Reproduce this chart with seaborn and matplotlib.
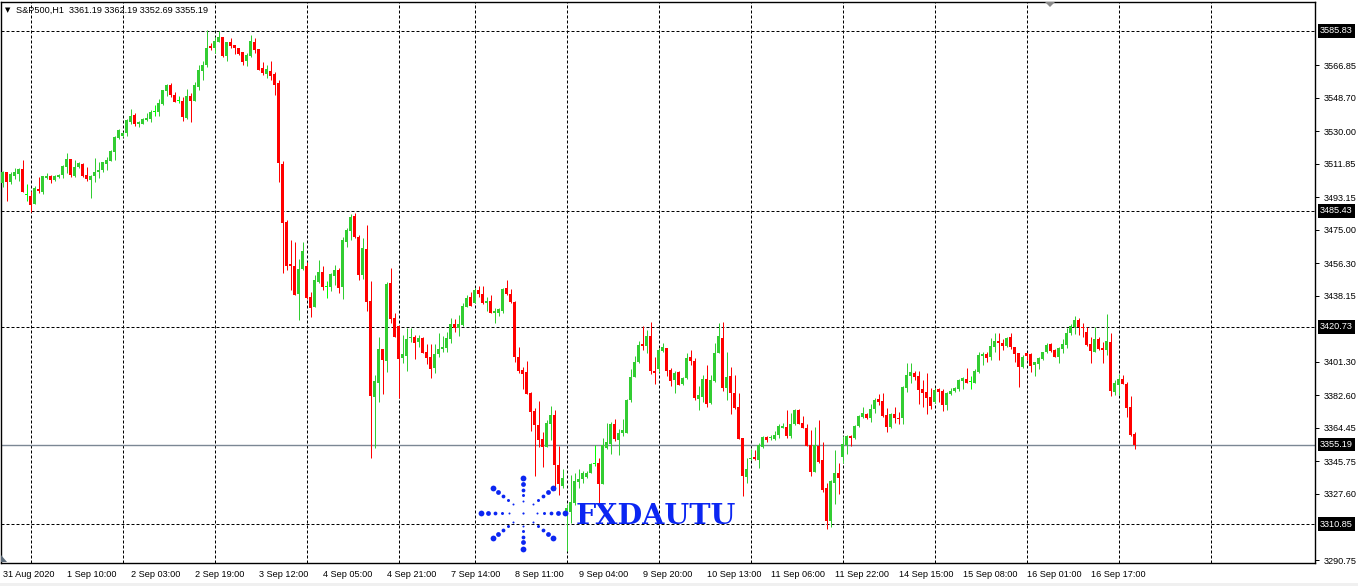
import numpy as np
import seaborn as sns
import matplotlib.pyplot as plt
from matplotlib.patches import Rectangle, Polygon

sns.set_theme(style="white")
plt.rcParams["font.family"] = ["Liberation Sans", "DejaVu Sans"]

# S&P500 hourly candles, 31 Aug 2020 -> 17 Sep 2020
opens = [
    3500.9, 3507.4, 3501.8, 3505.2, 3506.3, 3508.9, 3494.4, 3493.8, 3489.4, 3497.7,
    3496.2, 3504.1, 3505.2, 3502.8, 3504.6, 3505.5, 3510.2, 3514.5, 3505.2, 3510.2,
    3511.7, 3505.5, 3502.8, 3505.0, 3507.4, 3508.3, 3511.9, 3513.4, 3518.6, 3526.4,
    3527.3, 3529.2, 3535.3, 3539.0, 3533.8, 3534.2, 3536.2, 3536.8, 3540.8, 3540.5,
    3545.1, 3552.6, 3555.7, 3550.2, 3546.8, 3547.0, 3537.1, 3549.8, 3546.8, 3554.8,
    3563.5, 3566.9, 3577.7, 3576.2, 3579.9, 3582.3, 3572.1, 3579.5, 3578.0, 3576.2,
    3574.3, 3569.1, 3572.1, 3579.9, 3575.8, 3565.0, 3561.9, 3563.7, 3561.7, 3556.7,
    3511.5, 3479.5, 3455.3, 3454.8, 3439.2, 3452.9, 3455.0, 3437.3, 3432.1, 3446.1,
    3451.6, 3443.0, 3443.3, 3449.2, 3452.6, 3443.3, 3468.4, 3474.5, 3482.7, 3471.2,
    3449.8, 3464.3, 3435.3, 3381.9, 3389.7, 3408.5, 3402.0, 3445.1, 3426.0, 3421.3,
    3403.7, 3404.6, 3414.5, 3415.4, 3412.6, 3414.8, 3407.0, 3404.2, 3398.1, 3405.5,
    3408.5, 3409.2, 3414.1, 3422.4, 3420.0, 3421.9, 3432.1, 3437.3, 3434.3, 3441.4,
    3439.2, 3434.3, 3435.3, 3428.8, 3428.8, 3429.7, 3442.3, 3439.2, 3434.5, 3404.2,
    3396.8, 3395.5, 3383.8, 3373.9, 3366.1, 3358.1, 3353.7, 3366.7, 3371.7, 3343.8,
    3332.0, 3316.0, 3317.7, 3322.4, 3334.5, 3335.8, 3337.2, 3339.5, 3344.2, 3344.7,
    3333.2, 3353.4, 3355.5, 3366.6, 3357.7, 3361.4, 3361.8, 3380.0, 3393.0, 3401.0,
    3411.1, 3410.3, 3415.7, 3396.2, 3397.1, 3407.5, 3409.2, 3396.8, 3391.2, 3395.8,
    3388.9, 3392.1, 3404.2, 3401.9, 3380.6, 3381.9, 3391.7, 3378.1, 3390.6, 3406.0,
    3414.4, 3386.5, 3393.4, 3384.1, 3376.3, 3359.0, 3337.2, 3346.9, 3348.4, 3346.5,
    3353.6, 3359.6, 3358.6, 3358.3, 3360.5, 3364.2, 3365.1, 3360.1, 3366.6, 3374.4,
    3367.0, 3364.6, 3354.9, 3340.0, 3354.3, 3346.5, 3330.7, 3312.7, 3333.9, 3339.5,
    3348.0, 3354.9, 3360.0, 3358.6, 3365.7, 3370.7, 3372.2, 3370.2, 3374.8, 3380.6,
    3379.5, 3371.7, 3364.8, 3372.2, 3370.2, 3369.8, 3386.9, 3393.4, 3395.3, 3393.4,
    3386.2, 3384.7, 3381.9, 3379.1, 3386.0, 3385.0, 3377.2, 3383.4, 3385.2, 3386.4,
    3390.8, 3391.7, 3389.9, 3389.7, 3395.8, 3404.8, 3405.7, 3403.8, 3409.8, 3413.1,
    3412.0, 3410.3, 3415.0, 3409.6, 3406.0, 3398.6, 3406.0, 3405.7, 3399.5, 3400.1,
    3402.9, 3407.0, 3411.3, 3407.9, 3404.2, 3408.3, 3410.7, 3417.2, 3420.9, 3424.6,
    3420.9, 3418.1, 3411.3, 3407.0, 3413.9, 3408.8, 3407.9, 3412.6, 3384.7, 3388.4,
    3391.7, 3389.0, 3375.9, 3361.19,
]
highs = [
    3507.8, 3507.4, 3507.4, 3509.3, 3509.6, 3513.9, 3500.5, 3496.8, 3499.4, 3504.4,
    3505.2, 3506.5, 3505.5, 3505.5, 3506.1, 3511.1, 3518.0, 3514.5, 3513.9, 3513.0,
    3512.4, 3509.8, 3505.5, 3515.2, 3513.0, 3513.0, 3515.8, 3519.7, 3527.3, 3531.2,
    3529.7, 3536.6, 3542.4, 3540.1, 3535.7, 3537.1, 3539.9, 3541.8, 3544.6, 3547.9,
    3552.9, 3556.1, 3556.9, 3551.6, 3549.6, 3549.2, 3553.5, 3551.1, 3557.6, 3566.9,
    3569.1, 3586.4, 3579.0, 3582.7, 3585.9, 3582.3, 3579.9, 3581.8, 3578.0, 3576.6,
    3574.3, 3573.8, 3583.6, 3582.1, 3575.8, 3568.4, 3566.9, 3569.1, 3563.2, 3558.5,
    3513.4, 3480.4, 3469.3, 3468.4, 3458.7, 3468.4, 3457.2, 3440.5, 3449.8, 3458.1,
    3454.8, 3446.4, 3451.1, 3455.3, 3453.9, 3471.2, 3475.8, 3483.6, 3484.2, 3472.1,
    3470.2, 3477.7, 3446.4, 3394.0, 3415.4, 3408.5, 3446.1, 3453.5, 3428.4, 3421.3,
    3416.3, 3420.0, 3420.0, 3416.3, 3416.3, 3415.4, 3411.1, 3411.1, 3411.3, 3417.6,
    3415.8, 3418.2, 3426.0, 3425.0, 3427.5, 3434.0, 3438.6, 3440.5, 3442.3, 3443.6,
    3443.6, 3437.7, 3438.6, 3431.2, 3431.6, 3442.3, 3447.0, 3441.8, 3435.5, 3409.8,
    3398.6, 3401.8, 3384.3, 3375.4, 3379.5, 3362.4, 3368.9, 3376.7, 3374.5, 3354.4,
    3341.3, 3322.0, 3338.2, 3339.1, 3341.3, 3340.6, 3340.4, 3345.1, 3354.9, 3347.5,
    3359.0, 3367.4, 3367.9, 3369.4, 3363.6, 3369.4, 3380.4, 3397.1, 3404.7, 3412.9,
    3421.5, 3419.0, 3423.3, 3404.2, 3408.8, 3411.6, 3409.2, 3398.0, 3396.2, 3396.2,
    3393.0, 3406.0, 3407.9, 3403.2, 3387.8, 3393.9, 3399.5, 3393.9, 3411.6, 3422.8,
    3423.7, 3407.0, 3398.2, 3394.0, 3383.7, 3359.0, 3347.8, 3352.5, 3352.1, 3356.2,
    3359.9, 3359.9, 3360.5, 3362.9, 3366.4, 3367.0, 3374.4, 3372.6, 3374.8, 3374.8,
    3371.1, 3366.6, 3363.3, 3365.1, 3368.9, 3356.8, 3333.5, 3335.4, 3352.1, 3344.7,
    3359.9, 3360.5, 3360.5, 3366.1, 3371.7, 3376.3, 3372.6, 3377.8, 3381.0, 3383.4,
    3383.7, 3375.7, 3373.0, 3376.3, 3373.5, 3388.0, 3400.8, 3400.5, 3396.2, 3396.2,
    3391.2, 3395.3, 3386.9, 3386.5, 3386.5, 3386.0, 3384.7, 3386.5, 3387.5, 3391.6,
    3392.7, 3398.1, 3393.6, 3397.3, 3406.6, 3407.0, 3407.0, 3414.4, 3417.2, 3417.2,
    3413.9, 3415.4, 3417.6, 3409.8, 3406.4, 3405.1, 3406.0, 3406.0, 3401.4, 3403.8,
    3407.0, 3412.0, 3411.6, 3408.3, 3409.8, 3413.9, 3420.0, 3422.4, 3426.9, 3425.6,
    3422.8, 3420.6, 3415.4, 3420.6, 3415.4, 3412.6, 3428.0, 3417.2, 3391.2, 3394.5,
    3394.0, 3390.3, 3382.3, 3362.19,
]
lows = [
    3499.0, 3491.2, 3500.3, 3503.3, 3502.4, 3496.2, 3491.2, 3485.1, 3489.4, 3495.7,
    3494.9, 3503.1, 3501.3, 3502.4, 3503.7, 3503.7, 3506.5, 3504.6, 3504.6, 3509.3,
    3504.2, 3502.4, 3492.9, 3501.8, 3504.1, 3507.4, 3508.3, 3513.4, 3513.9, 3525.4,
    3526.9, 3527.3, 3534.0, 3533.1, 3532.5, 3533.8, 3535.7, 3535.3, 3538.6, 3538.6,
    3544.6, 3549.8, 3549.2, 3546.4, 3545.7, 3535.7, 3536.8, 3535.3, 3546.8, 3552.9,
    3558.5, 3566.0, 3575.3, 3573.4, 3579.5, 3571.2, 3569.3, 3576.6, 3572.8, 3572.5,
    3566.9, 3566.5, 3571.5, 3573.8, 3564.1, 3561.3, 3559.5, 3558.5, 3550.2, 3501.8,
    3450.7, 3452.6, 3441.4, 3438.6, 3424.7, 3452.6, 3436.4, 3426.5, 3432.1, 3445.5,
    3441.4, 3437.1, 3440.8, 3444.2, 3439.9, 3436.2, 3465.6, 3469.3, 3470.2, 3447.0,
    3447.5, 3429.7, 3347.5, 3353.1, 3379.1, 3383.4, 3395.9, 3423.2, 3415.0, 3381.0,
    3400.5, 3396.4, 3412.6, 3402.7, 3409.8, 3406.1, 3400.0, 3392.1, 3394.9, 3403.9,
    3406.6, 3406.8, 3411.7, 3418.2, 3415.9, 3421.3, 3432.1, 3432.5, 3434.3, 3437.3,
    3433.6, 3429.7, 3428.4, 3423.2, 3427.1, 3428.4, 3438.6, 3433.9, 3401.4, 3394.9,
    3386.0, 3383.4, 3362.8, 3337.7, 3354.0, 3342.9, 3353.7, 3357.8, 3329.9, 3327.1,
    3331.1, 3296.0, 3311.2, 3321.4, 3331.1, 3333.5, 3336.7, 3339.1, 3343.2, 3320.5,
    3333.2, 3352.5, 3349.7, 3357.3, 3349.3, 3359.9, 3361.4, 3379.1, 3393.0, 3400.5,
    3407.9, 3406.0, 3394.5, 3388.7, 3395.8, 3407.0, 3393.4, 3387.8, 3383.7, 3388.4,
    3388.4, 3391.7, 3399.5, 3380.0, 3374.4, 3378.7, 3376.3, 3377.8, 3390.2, 3406.0,
    3385.2, 3380.0, 3372.0, 3374.8, 3358.3, 3326.7, 3333.9, 3346.5, 3346.5, 3342.3,
    3353.4, 3356.4, 3357.7, 3357.7, 3358.6, 3364.2, 3358.6, 3358.6, 3366.1, 3366.4,
    3364.2, 3354.3, 3337.8, 3340.0, 3345.1, 3328.9, 3308.1, 3309.4, 3321.8, 3327.6,
    3345.1, 3349.9, 3354.6, 3358.1, 3364.8, 3369.8, 3369.4, 3368.0, 3373.0, 3377.2,
    3370.7, 3362.4, 3364.2, 3367.0, 3366.6, 3366.6, 3384.7, 3389.3, 3391.2, 3377.8,
    3376.3, 3372.2, 3375.0, 3378.5, 3379.1, 3374.1, 3374.4, 3382.8, 3384.7, 3385.2,
    3386.2, 3389.3, 3386.2, 3389.3, 3395.3, 3399.5, 3401.4, 3402.3, 3406.6, 3402.3,
    3407.9, 3409.8, 3408.3, 3401.0, 3387.5, 3397.7, 3402.3, 3395.8, 3393.4, 3397.3,
    3402.3, 3406.0, 3407.0, 3403.8, 3400.8, 3406.1, 3409.2, 3416.3, 3416.7, 3416.3,
    3415.4, 3410.3, 3400.5, 3406.6, 3407.9, 3400.5, 3405.1, 3382.3, 3382.8, 3382.8,
    3388.9, 3370.4, 3359.9, 3352.69,
]
closes = [
    3507.4, 3501.8, 3506.1, 3507.4, 3508.7, 3496.2, 3494.4, 3488.8, 3498.5, 3496.8,
    3505.0, 3505.0, 3502.8, 3505.0, 3505.5, 3510.6, 3514.5, 3505.5, 3509.8, 3512.4,
    3505.0, 3503.1, 3505.0, 3507.4, 3508.3, 3513.0, 3514.1, 3519.1, 3526.9, 3530.6,
    3529.2, 3536.2, 3538.6, 3534.0, 3535.3, 3536.8, 3537.1, 3540.5, 3540.8, 3545.5,
    3552.9, 3555.7, 3550.2, 3546.4, 3546.8, 3538.1, 3549.8, 3546.8, 3555.7, 3564.1,
    3566.9, 3576.6, 3576.6, 3580.3, 3582.7, 3571.9, 3579.5, 3577.7, 3576.2, 3572.8,
    3568.8, 3572.5, 3580.3, 3575.3, 3564.1, 3562.2, 3564.5, 3560.9, 3555.7, 3512.1,
    3479.0, 3455.0, 3455.0, 3438.6, 3453.1, 3463.3, 3437.1, 3431.6, 3447.0, 3451.6,
    3442.9, 3443.0, 3450.3, 3452.6, 3442.7, 3469.3, 3474.9, 3482.3, 3470.8, 3449.8,
    3464.6, 3434.9, 3382.5, 3390.7, 3408.5, 3402.4, 3444.8, 3425.0, 3415.0, 3403.1,
    3405.7, 3413.9, 3415.4, 3412.0, 3414.8, 3406.5, 3403.7, 3397.5, 3405.7, 3408.5,
    3409.8, 3414.5, 3422.3, 3420.0, 3422.4, 3432.5, 3437.1, 3432.5, 3441.4, 3439.0,
    3434.3, 3435.5, 3428.8, 3429.7, 3430.8, 3441.9, 3439.2, 3434.5, 3404.2, 3396.4,
    3394.6, 3383.4, 3373.2, 3366.1, 3357.8, 3353.7, 3367.4, 3371.7, 3343.8, 3333.2,
    3336.3, 3320.0, 3322.9, 3334.8, 3336.0, 3339.1, 3339.5, 3344.3, 3344.2, 3333.0,
    3354.9, 3356.8, 3366.6, 3358.3, 3361.8, 3363.3, 3380.0, 3393.0, 3401.4, 3410.7,
    3410.3, 3415.9, 3396.2, 3394.9, 3407.9, 3409.8, 3396.4, 3390.8, 3395.2, 3388.4,
    3392.1, 3403.6, 3401.9, 3381.3, 3382.8, 3391.7, 3377.8, 3391.2, 3406.4, 3415.9,
    3386.9, 3393.0, 3383.7, 3375.7, 3358.3, 3337.8, 3341.5, 3347.8, 3346.9, 3354.9,
    3359.6, 3357.7, 3359.6, 3360.5, 3365.7, 3365.7, 3359.9, 3366.6, 3374.4, 3366.4,
    3364.2, 3354.5, 3340.0, 3354.9, 3345.2, 3329.8, 3312.7, 3335.0, 3339.1, 3336.7,
    3355.5, 3360.0, 3358.6, 3365.7, 3371.3, 3373.0, 3370.2, 3375.0, 3380.0, 3379.1,
    3371.3, 3365.2, 3372.2, 3369.8, 3369.6, 3387.1, 3394.0, 3395.8, 3393.0, 3385.6,
    3384.1, 3381.3, 3376.7, 3385.6, 3384.3, 3377.2, 3384.1, 3385.2, 3386.9, 3391.2,
    3392.1, 3389.7, 3389.9, 3396.2, 3405.1, 3405.7, 3403.3, 3410.1, 3412.9, 3412.0,
    3410.1, 3414.8, 3409.4, 3405.7, 3398.6, 3404.2, 3404.8, 3399.2, 3401.0, 3403.3,
    3407.0, 3410.7, 3407.4, 3404.2, 3408.8, 3411.3, 3417.6, 3421.3, 3424.6, 3420.9,
    3420.0, 3410.7, 3407.5, 3413.9, 3408.5, 3407.9, 3412.9, 3385.2, 3389.7, 3391.7,
    3389.0, 3375.4, 3360.5, 3355.19,
]

# axis labels
time_labels = ["31 Aug 2020", "1 Sep 10:00", "2 Sep 03:00", "2 Sep 19:00", "3 Sep 12:00",
               "4 Sep 05:00", "4 Sep 21:00", "7 Sep 14:00", "8 Sep 11:00", "9 Sep 04:00",
               "9 Sep 20:00", "10 Sep 13:00", "11 Sep 06:00", "11 Sep 22:00", "14 Sep 15:00",
               "15 Sep 08:00", "16 Sep 01:00", "16 Sep 17:00"]
label_every = 16
day_starts = [7, 30, 53, 76, 99, 118, 141, 164, 187, 210, 233, 256, 279, 302]
price_ticks = [3566.85, 3548.70, 3530.00, 3511.85, 3493.15, 3475.00, 3456.30, 3438.15,
               3401.30, 3382.60, 3364.45, 3345.75, 3327.60, 3290.75]
levels = [3585.83, 3485.43, 3420.73, 3310.85]
last_price = 3355.19
title = "S&P500,H1  3361.19 3362.19 3352.69 3355.19"

UP, DOWN, DOJI = "#32cd32", "#ff0000", "#00ff00"
W, H = 1358, 586
px = 0.72  # one pixel in points at dpi 100

fig = plt.figure(figsize=(W / 100, H / 100), dpi=100)
fig.patch.set_facecolor("white")
fig.patches.append(Rectangle((0, 0), 1, 3 / H, transform=fig.transFigure,
                             facecolor="#f0f0f0", edgecolor="none"))
ax = fig.add_axes([1 / W, 23 / H, 1314 / W, 561 / H])
ax.set_facecolor("white")

o = np.array(opens); c = np.array(closes)
hi = np.array(highs); lo = np.array(lows)
x = np.arange(len(o))
colors = np.where(c > o, UP, np.where(c < o, DOWN, DOJI))

ax.vlines(x, lo, hi, colors=colors, linewidth=px, zorder=3)
ax.bar(x, np.maximum(np.abs(c - o), 0.6), bottom=np.minimum(o, c), width=0.78,
       color=colors, linewidth=0, zorder=4)

dash = (0, (3, 2))
for d in day_starts:
    ax.axvline(d, color="black", lw=px, ls=dash, zorder=1)
for lv in levels:
    ax.axhline(lv, color="black", lw=px, ls=dash, zorder=2)
ax.axhline(last_price, color="#7b8794", lw=1.0, zorder=2)

ax.set_xlim(-0.45, 328.1)
ax.set_ylim(3289.1, 3602.0)

ax.yaxis.tick_right()
ax.set_yticks(price_ticks)
ax.set_yticklabels([f"{v:.2f}" for v in price_ticks])
tick_pos = np.arange(len(time_labels)) * label_every
ax.set_xticks(tick_pos)
ax.set_xticklabels(time_labels)
for lab in ax.get_xticklabels():
    lab.set_ha("left")
ax.tick_params(axis="both", direction="out", length=3, width=px, color="black",
               labelsize=6.6, labelcolor="black", pad=2)
ax.tick_params(axis="y", pad=3)
for s in ax.spines.values():
    s.set_visible(True)
    s.set_color("black")
    s.set_linewidth(1.0)

for lv in levels + [last_price]:
    ax.annotate(f"{lv:.2f}", xy=(1, lv), xycoords=("axes fraction", "data"),
                xytext=(5, 0), textcoords="offset pixels", ha="left", va="center",
                fontsize=6.6, color="white", zorder=10, annotation_clip=False,
                bbox=dict(boxstyle="square,pad=0.25", fc="black", ec="none"))

# overlay in pixel coordinates for the header and watermark
ov = fig.add_axes([0, 0, 1, 1], zorder=5)
ov.set_xlim(0, W); ov.set_ylim(H, 0); ov.axis("off"); ov.patch.set_alpha(0)
ov.text(5, 10, "▼", fontsize=5, family="DejaVu Sans", va="center", ha="left", color="black")
ov.text(16, 10, title, fontsize=6.6, va="center", ha="left", color="black")
ov.add_patch(Polygon([[1045, 2], [1055, 2], [1050, 7]], closed=True,
                     facecolor="#8a8a8a", edgecolor="none"))
ov.add_patch(Polygon([[1, 555], [1, 562], [7, 562]], closed=True,
                     facecolor="#5c6b7a", edgecolor="none"))

blue = "#0b26f2"
ov.text(576, 523.5, "FXDAUTU", fontsize=20.5, family="DejaVu Serif", weight="bold",
        color=blue, va="baseline", ha="left")
cx, cy = 523, 513
ov.scatter([cx], [cy], s=(2.2 * px) ** 2, color=blue, linewidths=0)
sizes = [2.0, 3.0, 3.8, 4.8, 5.8]
rx = [14, 21, 28, 35, 42]
ry = [12.5, 18, 23.5, 29, 35.5]
for ang in range(8):
    t = np.deg2rad(45 * ang)
    for k in range(5):
        ov.scatter([cx + rx[k] * np.cos(t)], [cy - ry[k] * np.sin(t)],
                   s=(sizes[k] * px) ** 2, color=blue, linewidths=0)

fig.savefig("out.png", dpi=100)
